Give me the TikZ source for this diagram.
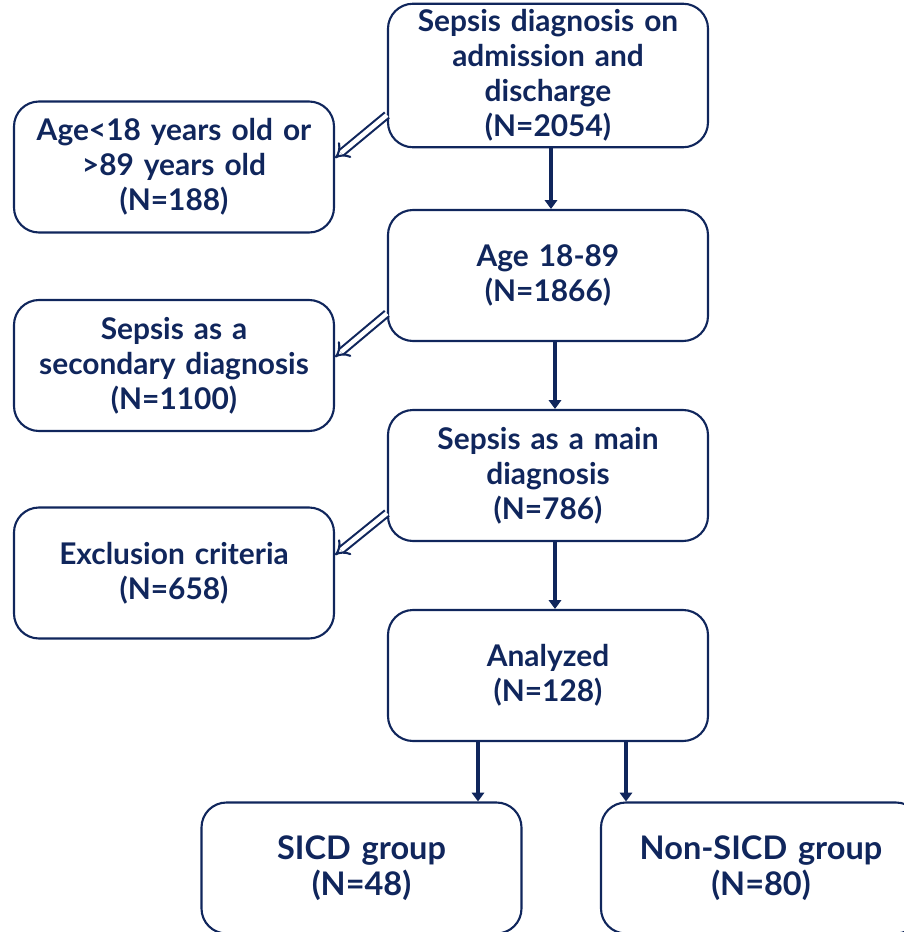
\documentclass[tikz,border=0pt]{standalone}
\usepackage{fontspec}
\setmainfont{Lato}
\usepackage{tikz}
\usetikzlibrary{arrows.meta, positioning}

\definecolor{navy}{RGB}{16,38,92}

\begin{document}
\begin{tikzpicture}[
    node distance=4cm,
    mainbox/.style={rectangle, rounded corners=0.5cm, minimum width=6.4cm, minimum height=2.62cm, text width=5.95cm, align=center, draw=navy, line width=1.2pt, text=navy, font=\bfseries\fontsize{17}{19.9}\selectfont},
    groupbox/.style={mainbox, font=\bfseries\fontsize{18.5}{20.5}\selectfont},
    arrow/.style={draw=navy, line width=1.8pt, -{Triangle[length=5pt, width=7pt]}},
    hollow/.style={draw=navy, line width=1.2pt, double=white, double distance=2.6pt, -{Implies}}
]
\useasboundingbox (0,0) rectangle (18.08,-18.64);
\clip (0,0) rectangle (18.08,-18.64);

% nodes
\node (diag) [mainbox] at (10.96,-1.51) {Sepsis diagnosis on\\admission and\\discharge\\(N=2054)};
\node (age) [mainbox, below of=diag] {Age 18-89\\(N=1866)};
\node (main) [mainbox, below of=age] {Sepsis as a main\\diagnosis\\(N=786)};
\node (analyzed) [mainbox, below of=main] {Analyzed\\(N=128)};

\node (outage) [mainbox] at (3.48,-3.34) {Age<18 years old or\\>89 years old\\(N=188)};
\node (second) [mainbox] at (3.48,-7.31) {Sepsis as a\\secondary diagnosis\\(N=1100)};
\node (excl) [mainbox] at (3.48,-11.46) {Exclusion criteria\\(N=658)};

\node (sicd) [groupbox] at (7.23,-17.36) {SICD group\\(N=48)};
\node (nonsicd) [groupbox] at (15.22,-17.36) {Non-SICD group\\(N=80)};

% arrows
\draw [arrow] ([xshift=0.06cm]diag.south) -- ([xshift=0.06cm]age.north);
\draw [arrow] ([xshift=0.14cm]age.south) -- ([xshift=0.14cm]main.north);
\draw [arrow] ([xshift=0.14cm]main.south) -- ([xshift=0.14cm]analyzed.north);
\draw [arrow] ([xshift=-1.4cm]analyzed.south) -- ([xshift=-1.4cm]analyzed.south |- sicd.north);
\draw [arrow] ([xshift=1.56cm]analyzed.south) -- ([xshift=1.56cm]analyzed.south |- nonsicd.north);

% exclusions
\draw [hollow] ([yshift=-0.79cm]diag.west) -- ([yshift=0.18cm]outage.east);
\draw [hollow] ([yshift=-0.76cm]age.west) -- ([yshift=0.17cm]second.east);
\draw [hollow] ([yshift=-0.75cm]main.west) -- ([yshift=0.36cm]excl.east);

\end{tikzpicture}
\end{document}
